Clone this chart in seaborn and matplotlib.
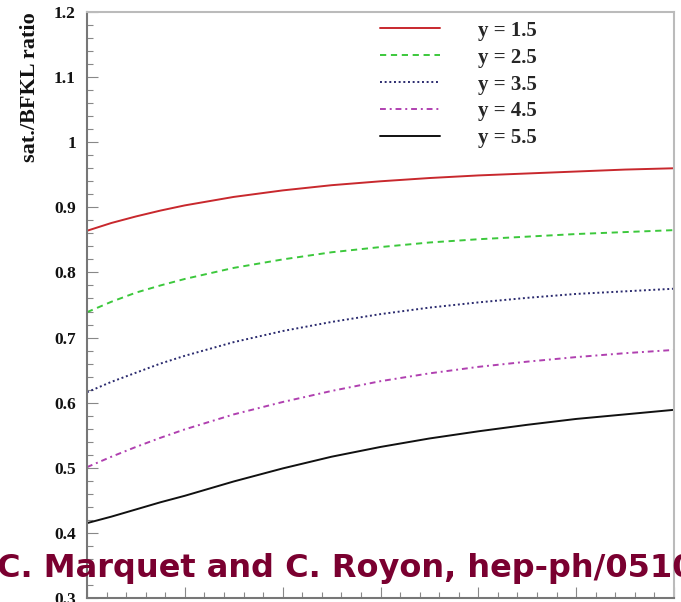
import matplotlib
matplotlib.use("Agg")
import matplotlib.pyplot as plt
from matplotlib.ticker import MultipleLocator, FuncFormatter
import numpy as np
import pandas as pd
import seaborn as sns

# x positions of the computed points
x_vals = [0, 0.25, 0.5, 0.75, 1, 1.5, 2, 2.5, 3, 3.5, 4, 4.5, 5, 5.5, 6]

# saturation / BFKL ratio for each rapidity
ratio_y15 = [0.864, 0.876, 0.886, 0.895, 0.903, 0.916, 0.926, 0.934, 0.940, 0.945, 0.949, 0.952, 0.955, 0.958, 0.960]
ratio_y25 = [0.739, 0.755, 0.769, 0.780, 0.790, 0.807, 0.820, 0.831, 0.839, 0.846, 0.851, 0.855, 0.859, 0.862, 0.865]
ratio_y35 = [0.616, 0.632, 0.646, 0.660, 0.672, 0.693, 0.710, 0.724, 0.736, 0.746, 0.754, 0.761, 0.767, 0.771, 0.775]
ratio_y45 = [0.501, 0.517, 0.532, 0.546, 0.559, 0.582, 0.601, 0.618, 0.633, 0.645, 0.655, 0.663, 0.670, 0.676, 0.681]
ratio_y55 = [0.415, 0.425, 0.436, 0.447, 0.457, 0.479, 0.499, 0.517, 0.532, 0.545, 0.556, 0.566, 0.575, 0.582, 0.589]

labels = ["y = 1.5", "y = 2.5", "y = 3.5", "y = 4.5", "y = 5.5"]
series = [ratio_y15, ratio_y25, ratio_y35, ratio_y45, ratio_y55]
colors = ["#c8282d", "#3cc83c", "#2a2a6e", "#b040b0", "#111111"]
dashes = ["-", (0, (3.2, 2.4)), (0, (1, 1.4)), (0, (3, 2, 1, 2)), "-"]

df = pd.DataFrame({
    "x": np.tile(x_vals, len(series)),
    "ratio": np.concatenate(series),
    "label": np.repeat(labels, len(x_vals)),
})

sns.set_theme(style="white")
serif = ["Liberation Serif", "DejaVu Serif"]

fig = plt.figure(figsize=(6.81, 6.02), dpi=100)
ax = fig.add_axes([87 / 681, 4 / 602, 587 / 681, 586 / 602])

for lab, col, ls in zip(labels, colors, dashes):
    sns.lineplot(data=df[df["label"] == lab], x="x", y="ratio", ax=ax,
                 color=col, linestyle=ls, linewidth=1.4, label=lab)

ax.set_xlim(0, 6)
ax.set_ylim(0.3, 1.2)
ax.set_xlabel("")
ax.set_ylabel("")

ax.xaxis.set_major_locator(MultipleLocator(1))
ax.xaxis.set_minor_locator(MultipleLocator(0.2))
ax.yaxis.set_major_locator(MultipleLocator(0.1))
ax.yaxis.set_minor_locator(MultipleLocator(0.02))
ax.yaxis.set_major_formatter(FuncFormatter(lambda v, p: f"{v:g}"))

ax.tick_params(axis="both", which="both", direction="in", color="#888888",
               left=True, bottom=True, top=False, right=False)
ax.tick_params(axis="both", which="major", length=8, width=0.8)
ax.tick_params(axis="both", which="minor", length=4, width=0.8)
ax.tick_params(axis="x", labelbottom=False)
ax.tick_params(axis="y", pad=8)
for t in ax.get_yticklabels():
    t.set_fontfamily(serif)
    t.set_fontweight("bold")
    t.set_fontsize(12.5)
    t.set_color("#111111")

for side in ["left", "bottom"]:
    ax.spines[side].set_color("#777777")
    ax.spines[side].set_linewidth(1.5)
for side in ["top", "right"]:
    ax.spines[side].set_color("#bbbbbb")
    ax.spines[side].set_linewidth(1.5)

leg = ax.legend(loc="upper left", bbox_to_anchor=(0.499, 0.985), frameon=False,
                handlelength=2.9, handletextpad=1.8, labelspacing=0.33,
                borderpad=0, borderaxespad=0,
                prop={"family": serif, "weight": "bold", "size": 15})

fig.text(30 / 681, 1 - 12 / 602, "sat./BFKL ratio", rotation=90,
         ha="center", va="top", family=serif, fontweight="bold", fontsize=16,
         color="#111111")

fig.text(-3 / 681, 1 - 577 / 602, "C. Marquet and C. Royon, hep-ph/0510",
         ha="left", va="baseline", family="DejaVu Sans", fontweight="bold",
         fontsize=23, color="#7a0030")

fig.savefig("out.png", dpi=100)
